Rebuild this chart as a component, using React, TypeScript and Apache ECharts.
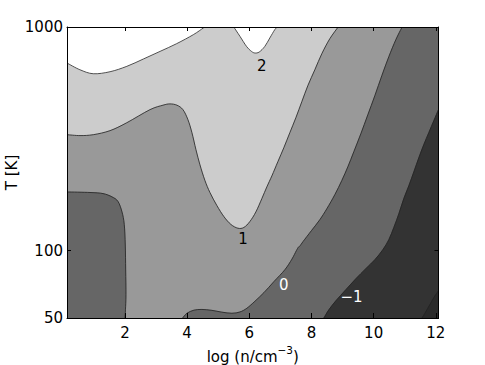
import { useEffect, useRef } from 'react';
import * as echarts from 'echarts';

// axis extents
const X_MIN = 0.135;
const X_MAX = 12.087;
const T_MIN = 50;
const T_MAX = 1000;

const xTicks = [2, 4, 6, 8, 10, 12];
const tTicks = [50, 100, 1000];

// contour level 2 (top-left boundary of the white area)
const c2aX = [0.135, 0.55, 0.98, 1.52, 2.06, 2.59, 3.13, 3.66, 4.2, 4.52, 4.57];
const c2aT = [690, 644, 618, 631, 667, 719, 778, 842, 924, 990, 1000];
// contour level 2 (white pocket at the top)
const c2bX = [5.5, 5.7, 5.91, 6.07, 6.18, 6.32, 6.5, 6.66, 6.82, 6.9];
const c2bT = [1000, 908, 819, 778, 765, 773, 819, 893, 973, 1000];
// contour level 1
const c1X = [0.135, 0.553, 0.981, 1.518, 2.055, 2.804, 3.222, 3.447, 3.672, 3.865, 4.026, 4.154, 4.283, 4.412, 4.572, 4.733, 4.958, 5.183, 5.408, 5.633, 5.826, 6.019, 6.212, 6.405, 6.566, 6.727, 6.92, 7.113, 7.305, 7.498, 7.691, 7.884, 8.109, 8.334, 8.592, 8.859];
const c1T = [330, 327, 330, 344, 373, 427, 447, 453, 447, 427, 385, 337, 283, 242, 206, 182, 159, 142, 131, 126, 127, 135, 149, 171, 193, 216, 250, 289, 337, 393, 464, 547, 644, 760, 887, 1000];
// contour level 0 (bottom-left pocket)
const c0aX = [0.135, 0.875, 1.293, 1.582, 1.775, 1.904, 1.977, 2.01, 2.023, 2.032, 2.016, 2.0];
const c0aT = [183, 182, 180, 174, 166, 149, 131, 106, 82, 63.6, 54.4, 50];
// contour level 0 (main)
const c0bX = [3.855, 3.994, 4.219, 4.476, 4.797, 5.119, 5.441, 5.698, 5.923, 6.18, 6.469, 6.791, 7.145, 7.37, 7.514, 7.579, 7.627, 7.733, 7.997, 8.27, 8.495, 8.752, 8.977, 9.17, 9.363, 9.588, 9.813, 10.039, 10.264, 10.489, 10.714, 10.916];
const c0bT = [50, 52.5, 54.2, 54.6, 54.1, 53.1, 52.5, 53.2, 55.3, 59.4, 64.9, 72.7, 82.2, 91.6, 100, 103.6, 104.9, 110, 122.8, 137.6, 154, 178, 206, 237, 277, 333, 405, 493, 606, 737, 877, 1000];
// contour level -1
const cm1X = [8.399, 8.559, 8.785, 9.106, 9.428, 9.749, 10.039, 10.296, 10.489, 10.65, 10.81, 10.971, 11.132, 11.293, 11.453, 11.614, 11.775, 11.936, 12.087];
const cm1T = [50, 54.4, 59.7, 66.9, 74.9, 83.1, 91.1, 101, 112, 127, 146, 171, 195, 225, 260, 298, 337, 381, 427];
// contour level -2 (corner)
const cm2X = [11.559, 11.678, 11.807, 11.936, 12.087];
const cm2T = [50, 53.3, 57.3, 61.6, 66.2];

// contour labels
const labelLevels = [2, 1, 0, -1];
const labelX = [6.4, 5.8, 7.11, 9.29];
const labelT = [671, 113, 70.1, 61.9];

const FONT = '"DejaVu Sans", sans-serif';

const zip = (xs: number[], ts: number[]) => xs.map((x, i) => [x, ts[i]]);

function smoothPath(p: number[][]): string {
  let d = `M${p[0][0]},${p[0][1]}`;
  for (let i = 0; i < p.length - 1; i++) {
    const p0 = p[i - 1] || p[i];
    const p1 = p[i];
    const p2 = p[i + 1];
    const p3 = p[i + 2] || p2;
    const c1x = p1[0] + (p2[0] - p0[0]) / 6;
    const c1y = p1[1] + (p2[1] - p0[1]) / 6;
    const c2x = p2[0] - (p3[0] - p1[0]) / 6;
    const c2y = p2[1] - (p3[1] - p1[1]) / 6;
    d += `C${c1x},${c1y},${c2x},${c2y},${p2[0]},${p2[1]}`;
  }
  return d;
}

const fmtLevel = (v: number) => (v < 0 ? '\u2212' + Math.abs(v) : String(v));

export default function App() {
  const ref = useRef<HTMLDivElement>(null);
  useEffect(() => {
    const chart = echarts.init(ref.current!, null, { renderer: 'svg' });
    const c2a = zip(c2aX, c2aT);
    const c2b = zip(c2bX, c2bT);
    const c1 = zip(c1X, c1T);
    const c0a = zip(c0aX, c0aT);
    const c0b = zip(c0bX, c0bT);
    const cm1 = zip(cm1X, cm1T);
    const cm2 = zip(cm2X, cm2T);

    const regions = [
      { pts: c2a, close: [[X_MIN, T_MAX]], color: '#ffffff' },
      { pts: c2b, close: [], color: '#ffffff' },
      { pts: c1, close: [[X_MAX, T_MAX], [X_MAX, T_MIN], [X_MIN, T_MIN]], color: '#999999' },
      { pts: c0a, close: [[X_MIN, T_MIN]], color: '#666666' },
      { pts: c0b, close: [[X_MAX, T_MAX], [X_MAX, T_MIN]], color: '#666666' },
      { pts: cm1, close: [[X_MAX, T_MIN]], color: '#333333' },
      { pts: cm2, close: [[X_MAX, T_MIN]], color: '#2a2a2a' },
    ];
    const lines = [c2a, c2b, c1, c0a, c0b, cm1, cm2];

    const axisCommon = {
      axisLine: { show: true, onZero: false, lineStyle: { color: '#000', width: 1 } },
      splitLine: { show: false },
      z: 10,
    };

    chart.setOption({
      animation: false,
      grid: {
        left: 67,
        right: 46.5,
        top: 27,
        bottom: 47,
        outerBoundsMode: 'none',
        containLabel: false,
        show: true,
        backgroundColor: '#cccccc',
        borderWidth: 0,
      },
      xAxis: [
        {
          ...axisCommon,
          type: 'value',
          min: X_MIN,
          max: X_MAX,
          position: 'bottom',
          axisTick: { show: true, inside: true, length: 5, customValues: xTicks, lineStyle: { color: '#000' } },
          axisLabel: {
            customValues: xTicks,
            formatter: (v: number) => String(v),
            color: '#000',
            fontSize: 15,
            fontFamily: FONT,
            margin: 7,
          },
          name: '{a|log (n/cm}{b|\u22123}{a|)}',
          nameLocation: 'middle',
          nameGap: 21,
          nameTextStyle: {
            color: '#000',
            rich: {
              a: { fontSize: 15, fontFamily: FONT, color: '#000', lineHeight: 20, verticalAlign: 'bottom' },
              b: { fontSize: 10.5, fontFamily: FONT, color: '#000', lineHeight: 10, verticalAlign: 'top' },
            },
          },
        },
        {
          ...axisCommon,
          type: 'value',
          min: X_MIN,
          max: X_MAX,
          position: 'top',
          axisTick: { show: true, inside: true, length: 4, customValues: xTicks, lineStyle: { color: '#000' } },
          axisLabel: { show: false },
        },
      ],
      yAxis: [
        {
          ...axisCommon,
          type: 'log',
          logBase: 10,
          min: T_MIN,
          max: T_MAX,
          position: 'left',
          axisTick: { show: true, inside: true, length: 4, customValues: tTicks, lineStyle: { color: '#000' } },
          axisLabel: {
            customValues: tTicks,
            formatter: (v: number) => String(Math.round(v)),
            color: '#000',
            fontSize: 15,
            fontFamily: FONT,
            margin: 4,
          },
          minorTick: { show: false },
          name: 'T [K]',
          nameLocation: 'middle',
          nameGap: 48,
          nameMoveOverlap: false,
          nameRotate: 90,
          nameTextStyle: { color: '#000', fontSize: 15, fontFamily: FONT },
        },
        {
          ...axisCommon,
          type: 'log',
          logBase: 10,
          min: T_MIN,
          max: T_MAX,
          position: 'right',
          axisTick: { show: true, inside: true, length: 4, customValues: tTicks, lineStyle: { color: '#000' } },
          axisLabel: { show: false },
          minorTick: { show: false },
        },
      ],
      series: [
        {
          type: 'custom',
          coordinateSystem: 'cartesian2d',
          silent: true,
          clip: true,
          z: 2,
          data: regions.map((r) => r.pts[0]),
          renderItem: (params: any, api: any) => {
            const r = regions[params.dataIndex];
            const px = r.pts.map((p) => api.coord(p));
            let d = smoothPath(px);
            r.close.forEach((c) => {
              const q = api.coord(c);
              d += `L${q[0]},${q[1]}`;
            });
            d += 'Z';
            return {
              type: 'path',
              shape: { pathData: d },
              style: { fill: r.color, stroke: r.color, lineWidth: 0.5 },
            };
          },
        },
        {
          type: 'custom',
          coordinateSystem: 'cartesian2d',
          silent: true,
          clip: true,
          z: 3,
          data: lines.map((l) => l[0]),
          renderItem: (params: any, api: any) => {
            const px = lines[params.dataIndex].map((p) => api.coord(p));
            return {
              type: 'path',
              shape: { pathData: smoothPath(px) },
              style: { fill: 'none', stroke: '#222222', lineWidth: 0.8 },
            };
          },
        },
        {
          type: 'custom',
          coordinateSystem: 'cartesian2d',
          silent: true,
          z: 4,
          data: labelX.map((x, i) => [x, labelT[i]]),
          renderItem: (params: any, api: any) => {
            const q = api.coord([api.value(0), api.value(1)]);
            const lv = labelLevels[params.dataIndex];
            return {
              type: 'text',
              x: q[0],
              y: q[1],
              style: {
                text: fmtLevel(lv),
                fill: lv > 0 ? '#000' : '#fff',
                font: `15px ${FONT}`,
                align: 'center',
                verticalAlign: 'middle',
              },
            };
          },
        },
      ],
    });
    return () => chart.dispose();
  }, []);
  return (
    <div
      ref={ref}
      style={{ position: 'fixed', left: 0, top: 0, width: 485, height: 365, background: '#fff' }}
    />
  );
}
